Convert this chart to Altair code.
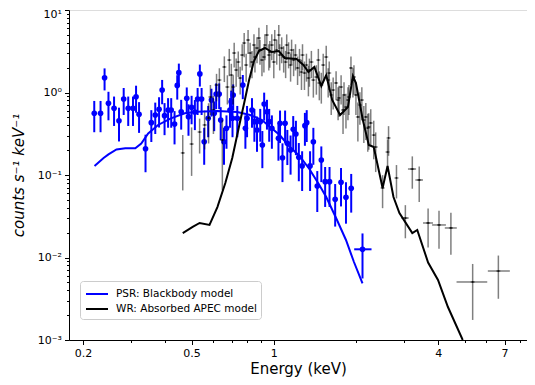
import altair as alt
import pandas as pd

# ---------------- PSR (blue) spectrum ----------------
psr_energy = [0.220, 0.232, 0.240, 0.248, 0.260, 0.271, 0.282, 0.293, 0.305, 0.313,
              0.321, 0.339, 0.356, 0.368, 0.380, 0.390, 0.398, 0.410, 0.421, 0.433,
              0.443, 0.449, 0.458, 0.480, 0.487, 0.500, 0.514, 0.526, 0.536, 0.544,
              0.556, 0.575, 0.591, 0.605, 0.615, 0.631, 0.639, 0.657, 0.671, 0.691,
              0.698, 0.706, 0.710, 0.735, 0.770, 0.787, 0.798, 0.832, 0.849, 0.868,
              0.892, 0.908, 0.922, 0.944, 0.962, 0.984, 1.040, 1.054, 1.076, 1.100,
              1.121, 1.152, 1.178, 1.205, 1.235, 1.270, 1.300, 1.320, 1.358, 1.396,
              1.443, 1.493, 1.542, 1.600, 1.678, 1.763, 1.838, 1.921, 2.113]
psr_counts = [0.560, 0.560, 1.51, 0.740, 0.643, 0.455, 0.834, 0.643, 0.643, 0.889,
              0.544, 0.208, 0.431, 0.534, 0.626, 1.07, 0.524, 0.614, 0.614, 0.415,
              1.22, 1.74, 0.585, 0.851, 0.509, 0.662, 0.580, 0.834, 1.68, 0.834,
              0.253, 0.487, 0.811, 0.560, 0.959, 0.959, 0.464, 0.253, 0.368, 0.614,
              0.773, 0.487, 0.933, 0.487, 1.23, 0.368, 0.487, 0.614, 0.443, 0.351,
              0.443, 0.231, 0.726, 0.585, 0.443, 0.368, 0.279, 0.424, 0.162, 0.424,
              0.242, 0.201, 0.358, 0.314, 0.164, 0.129, 0.396, 0.431, 0.129, 0.253,
              0.0736, 0.152, 0.0830, 0.0830, 0.0507, 0.0816, 0.0537, 0.0690, 0.01257]
psr_err = [0.23, 0.23, 0.45, 0.28, 0.25, 0.20, 0.30, 0.25, 0.25, 0.32,
           0.22, 0.10, 0.18, 0.22, 0.25, 0.35, 0.22, 0.24, 0.24, 0.18,
           0.40, 0.50, 0.23, 0.30, 0.21, 0.25, 0.23, 0.30, 0.50, 0.30,
           0.12, 0.20, 0.30, 0.22, 0.33, 0.33, 0.20, 0.12, 0.16, 0.24,
           0.28, 0.20, 0.32, 0.20, 0.40, 0.16, 0.20, 0.24, 0.19, 0.16,
           0.19, 0.11, 0.27, 0.23, 0.19, 0.16, 0.13, 0.18, 0.08, 0.18,
           0.11, 0.10, 0.16, 0.14, 0.08, 0.065, 0.17, 0.18, 0.065, 0.12,
           0.038, 0.07, 0.042, 0.042, 0.027, 0.04, 0.028, 0.034, 0.007]
psr_last_bin = [1.97, 2.28]

# ---------------- WR (black) spectrum ----------------
wr_energy = [0.464, 0.500, 0.535, 0.558, 0.577, 0.586, 0.601, 0.617, 0.632, 0.648,
             0.659, 0.676, 0.687, 0.699, 0.710, 0.716, 0.728, 0.741, 0.753, 0.766,
             0.779, 0.792, 0.805, 0.819, 0.832, 0.846, 0.853, 0.868, 0.882, 0.890,
             0.905, 0.920, 0.928, 0.943, 0.959, 0.967, 0.983, 1.000, 1.008, 1.025,
             1.043, 1.051, 1.069, 1.087, 1.105, 1.115, 1.133, 1.152, 1.162, 1.182,
             1.201, 1.222, 1.242, 1.263, 1.274, 1.295, 1.317, 1.339, 1.350, 1.373,
             1.396, 1.432, 1.456, 1.468, 1.493, 1.517, 1.556, 1.582, 1.596, 1.623,
             1.650, 1.691, 1.720, 1.734, 1.764, 1.793, 1.808, 1.838, 1.869, 1.885,
             1.917, 1.949, 1.966, 1.999, 2.032, 2.067, 2.101, 2.137, 2.173, 2.209,
             2.228, 2.265, 2.323, 2.362, 2.503, 2.610, 2.632, 2.814, 3.033, 3.216,
             3.409, 3.674, 4.028, 4.453, 5.350, 6.645]
wr_counts = [0.185, 0.2375, 0.332, 0.404, 0.491, 0.882, 0.614, 1.233, 1.417, 0.2656,
             2.038, 1.166, 2.477, 1.630, 1.166, 3.012, 1.874, 2.343, 1.499, 2.848,
             3.981, 2.154, 4.329, 3.012, 2.343, 3.765, 2.694, 3.462, 4.577, 3.274,
             2.477, 2.694, 3.765, 4.977, 2.848, 3.097, 3.765, 2.343, 4.329, 3.274,
             4.977, 2.848, 3.462, 2.694, 2.343, 3.765, 3.012, 2.154, 3.274, 2.477,
             2.848, 1.982, 2.477, 1.772, 2.848, 1.723, 2.154, 1.499, 1.874, 2.343,
             1.417, 1.541, 2.477, 1.304, 1.233, 2.154, 2.694, 1.417, 1.723, 0.933,
             1.072, 1.304, 0.811, 0.858, 1.166, 0.614, 0.933, 0.667, 0.811, 0.882,
             1.982, 1.417, 1.541, 0.933, 0.505, 0.706, 0.811, 0.464, 0.505, 0.371,
             0.382, 0.427, 0.305, 0.2185, 0.0696, 0.190, 0.281, 0.092, 0.0301, 0.1182,
             0.0870, 0.0262, 0.0248, 0.0228, 0.00505, 0.00686]
wr_err = [0.12, 0.14, 0.15, 0.20, 0.25, 0.35, 0.30, 0.45, 0.55, 0.20,
          0.70, 0.45, 0.90, 0.60, 0.45, 1.00, 0.70, 0.80, 0.55, 1.00,
          1.30, 0.80, 1.40, 1.00, 0.85, 1.30, 0.95, 1.20, 1.50, 1.10,
          0.90, 0.95, 1.30, 1.60, 1.00, 1.10, 1.30, 0.85, 1.40, 1.10,
          1.60, 1.00, 1.20, 0.95, 0.85, 1.30, 1.05, 0.80, 1.10, 0.90,
          1.00, 0.75, 0.90, 0.70, 1.00, 0.65, 0.80, 0.60, 0.70, 0.85,
          0.55, 0.60, 0.90, 0.50, 0.50, 0.80, 1.00, 0.55, 0.65, 0.40,
          0.45, 0.50, 0.35, 0.35, 0.45, 0.30, 0.40, 0.30, 0.35, 0.35,
          0.75, 0.55, 0.60, 0.40, 0.25, 0.30, 0.35, 0.22, 0.24, 0.18,
          0.18, 0.20, 0.15, 0.11, 0.03, 0.08, 0.11, 0.04, 0.013, 0.05,
          0.04, 0.013, 0.012, 0.012, 0.0033, 0.0037]
# energy bins of the last eight (wide) WR channels
wr_wide_lo = [2.93, 3.10, 3.30, 3.52, 3.80, 4.23, 4.67, 6.08]
wr_wide_hi = [3.12, 3.32, 3.52, 3.83, 4.27, 4.68, 6.05, 7.32]

# ---------------- models ----------------
psr_model_E = [0.2205, 0.238, 0.248, 0.2654, 0.286, 0.311, 0.327, 0.3467, 0.3768, 0.420,
               0.472, 0.526, 0.6215, 0.735, 0.819, 0.905, 0.967, 1.051, 1.143, 1.242,
               1.350, 1.468, 1.556, 1.691, 1.838, 1.966, 2.113]
psr_model_c = [0.1285, 0.1607, 0.178, 0.2038, 0.2107, 0.2107, 0.2409, 0.3185, 0.404, 0.4867,
               0.5597, 0.585, 0.5965, 0.580, 0.5337, 0.464, 0.385, 0.305, 0.2203, 0.170,
               0.1182, 0.0756, 0.0541, 0.0301, 0.0163, 0.00882, 0.00487]
wr_model_E = [0.464, 0.5045, 0.535, 0.5815, 0.6215, 0.6645, 0.7045, 0.7465, 0.779, 0.812,
              0.846, 0.882, 0.928, 0.983, 1.043, 1.096, 1.211, 1.284, 1.339, 1.408,
              1.493, 1.556, 1.636, 1.749, 1.869, 1.949, 1.999, 2.119, 2.228, 2.323,
              2.503, 2.610, 2.744, 2.885, 3.216, 3.353, 3.674, 3.994, 4.343, 4.920]
wr_model_c = [0.0198, 0.02344, 0.0262, 0.0248, 0.0409, 0.080, 0.1607, 0.3926, 0.746, 1.417,
              2.409, 3.184, 3.462, 3.097, 3.184, 2.619, 2.547, 2.154, 1.772, 2.038,
              1.199, 1.630, 0.811, 0.534, 0.667, 1.585, 1.304, 0.464, 0.231, 0.2185,
              0.0696, 0.1285, 0.0541, 0.0346, 0.0198, 0.02154, 0.0087, 0.00534, 0.00251, 0.001]

model_names = ["PSR: Blackbody model", "WR: Absorbed APEC model"]
x_major = [0.2, 0.5, 1, 4, 7]
x_ticks = [0.2, 0.3, 0.4, 0.5, 0.6, 0.7, 0.8, 0.9, 1, 2, 3, 4, 5, 6, 7, 8]
y_ticks = [m * 10.0 ** k for k in range(-3, 1) for m in range(1, 10)] + [10.0]

# ---------------- tables ----------------
psr = pd.DataFrame({"E": psr_energy, "c": psr_counts, "err": psr_err})
wr = pd.DataFrame({"E": wr_energy, "c": wr_counts, "err": wr_err})
wr_wide = pd.DataFrame({"lo": wr_wide_lo, "hi": wr_wide_hi, "c": wr_counts[-8:]})
psr_bin = pd.DataFrame({"lo": [psr_last_bin[0]], "hi": [psr_last_bin[1]], "c": [psr_counts[-1]]})
models = pd.concat([
    pd.DataFrame({"E": psr_model_E, "c": psr_model_c, "model": model_names[0]}),
    pd.DataFrame({"E": wr_model_E, "c": wr_model_c, "model": model_names[1]}),
])

FONT = "DejaVu Sans"
LG = "(log(datum.value)/LN10)"
y_major_test = f"abs({LG} - round({LG})) < 0.001"
y_label = (f"{y_major_test} ? (round({LG}) == -3 ? '10⁻³' : round({LG}) == -2 ? '10⁻²' : "
           f"round({LG}) == -1 ? '10⁻¹' : round({LG}) == 0 ? '10⁰' : '10¹') : ''")
x_major_test = "indexof([0.2, 0.5, 1, 4, 7], datum.value) >= 0"

xscale = alt.Scale(type="log", domain=[0.1778, 8.46], nice=False)
yscale = alt.Scale(type="log", domain=[0.001, 10], nice=False)

xaxis = alt.Axis(
    values=x_ticks, labelExpr=f"{x_major_test} ? format(datum.value, '~g') : ''",
    title="Energy (keV)", titleFontSize=15, titleFont=FONT, titleFontWeight="normal",
    titleColor="black", titlePadding=3,
    labelFontSize=11, labelFont=FONT, labelColor="black", labelPadding=3,
    labelFlush=False, labelOverlap=False, grid=False,
    tickColor="black", domainColor="black",
    tickSize={"condition": {"test": x_major_test, "value": 4.5}, "value": 2.5},
)
yaxis = alt.Axis(
    values=y_ticks, labelExpr=y_label,
    title="counts s⁻¹ keV⁻¹", titleFontSize=15, titleFont=FONT, titleFontStyle="italic",
    titleFontWeight="normal", titleColor="black", titlePadding=11,
    labelFontSize=11, labelFont=FONT, labelColor="black", labelPadding=3,
    labelFlush=False, labelOverlap=False, grid=False,
    tickColor="black", domainColor="black",
    labelOffset={"condition": {"test": "datum.value >= 9.99", "value": 4}, "value": 0},
    tickSize={"condition": {"test": y_major_test, "value": 4.5}, "value": 2.5},
)


def X(f):
    return alt.X(f"{f}:Q", scale=xscale, axis=xaxis)


def Y(f):
    return alt.Y(f"{f}:Q", scale=yscale, axis=yaxis)


psr_bars = alt.Chart(psr).transform_calculate(
    lo="datum.c - datum.err", hi="datum.c + datum.err"
).mark_rule(color="blue", strokeWidth=2, clip=True).encode(x=X("E"), y=Y("lo"), y2="hi:Q")
psr_xbar = alt.Chart(psr_bin).mark_rule(color="blue", strokeWidth=2, clip=True).encode(
    x=X("lo"), x2="hi:Q", y=Y("c"))
psr_pts = alt.Chart(psr).mark_circle(color="blue", size=32, opacity=1, clip=True).encode(
    x=X("E"), y=Y("c"))

wr_bars = alt.Chart(wr).transform_calculate(
    lo="datum.c - datum.err", hi="datum.c + datum.err"
).mark_rule(color="black", opacity=0.5, strokeWidth=1.5, clip=True).encode(
    x=X("E"), y=Y("lo"), y2="hi:Q")
wr_ticks = alt.Chart(wr).mark_tick(color="black", opacity=0.7, orient="horizontal",
                                   size=4, thickness=1, clip=True).encode(x=X("E"), y=Y("c"))
wr_xbars = alt.Chart(wr_wide).mark_rule(color="black", opacity=0.5, strokeWidth=1.5,
                                        clip=True).encode(x=X("lo"), x2="hi:Q", y=Y("c"))
wr_dots = alt.Chart(wr).mark_circle(color="black", size=3, opacity=0.8, clip=True).encode(
    x=X("E"), y=Y("c"))

model_lines = alt.Chart(models).mark_line(strokeWidth=2, clip=True).encode(
    x=X("E"), y=Y("c"),
    color=alt.Color("model:N", scale=alt.Scale(domain=model_names, range=["blue", "black"]),
                    legend=alt.Legend(title=None, orient="none", legendX=11, legendY=271,
                                      symbolType="M-0.875,0H1.875", symbolSize=256,
                                      symbolStrokeWidth=2, symbolFillColor="transparent",
                                      labelFontSize=10.5, labelFont=FONT, labelColor="black",
                                      fillColor="white", strokeColor="#cccccc", padding=4,
                                      cornerRadius=3, rowPadding=0, labelOffset=14)),
)

chart = alt.layer(
    psr_bars, psr_xbar, psr_pts, wr_bars, wr_xbars, wr_ticks, wr_dots, model_lines
).properties(
    width=458, height=330,
    autosize=alt.AutoSizeParams(type="none"),
    padding={"left": 61, "top": 2, "right": 0, "bottom": 37},
).configure_view(stroke="black", strokeWidth=1).configure(background="white")

chart.save("out.html", embed_options={"renderer": "svg", "actions": False})
